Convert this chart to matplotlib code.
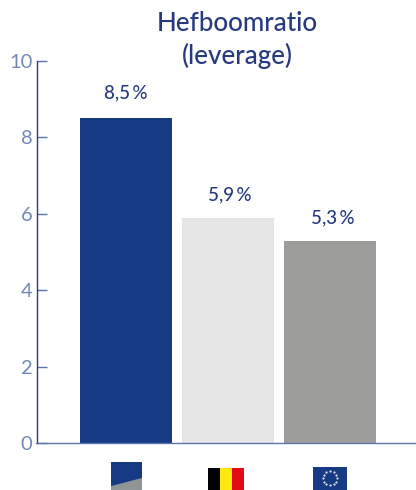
import numpy as np
import matplotlib
matplotlib.use("Agg")
import matplotlib.pyplot as plt
from matplotlib.patches import Polygon, Rectangle

W = 416
H = 490

categories = ["NBB", "België", "EU"]
values = [8.5, 5.9, 5.3]
value_labels = ["8,5\u2009%", "5,9\u2009%", "5,3\u2009%"]
bar_colors = ["#163a84", "#e6e6e6", "#9d9d9b"]
y_ticks = [0, 2, 4, 6, 8, 10]
label_dx = [-0.7, 1, 2]
label_dy = [12, 10, 10]

plt.rcParams["font.family"] = ["Lato", "DejaVu Sans"]
navy = "#27397f"
tick_blue = "#7488ba"


def px_axes(x0, y0, x1, y1):
    # pixel box (top-left origin) to figure axes
    a = fig.add_axes([x0 / W, 1 - y1 / H, (x1 - x0) / W, (y1 - y0) / H])
    a.set_xlim(0, 1)
    a.set_ylim(0, 1)
    a.axis("off")
    return a


fig = plt.figure(figsize=(W / 100, H / 100), dpi=100)
ax = fig.add_axes([36.5 / W, 1 - 443 / H, (W - 36.5) / W, (443 - 61) / H])

x = np.arange(len(categories))
ax.bar(x, values, width=92 / 102, color=bar_colors)
ax.set_xlim(-90 / 102, 290 / 102)
ax.set_ylim(0, 10)

for i in range(len(values)):
    ax.annotate(value_labels[i], (x[i], values[i]), xytext=(label_dx[i], label_dy[i]), textcoords="offset points",
                ha="center", va="bottom", fontsize=13.5, color=navy, fontweight="medium")

ax.set_xticks([])
ax.set_yticks(y_ticks)
ax.tick_params(axis="y", direction="in", length=7.5, width=1, color=tick_blue,
               labelcolor=tick_blue, labelsize=14.5, pad=3)
for t in ax.yaxis.get_major_ticks():
    t.tick1line.set_markeredgecolor("#5d75ad")
ax.spines["top"].set_visible(False)
ax.spines["right"].set_visible(False)
ax.spines["left"].set_color("#27397f")
ax.spines["bottom"].set_color("#5d75ad")
ax.spines["left"].set_linewidth(1)
ax.spines["bottom"].set_linewidth(1)

fig.text(237.5 / W, 1 - 40 / H, "Hefboomratio\n(leverage)", ha="center", va="center",
         fontsize=18.7, color=navy, linespacing=1.32, fontweight="medium")

# logo
a = px_axes(111, 462, 142, 490)
a.add_patch(Rectangle((0, 0), 1, 1, color="#8f9494", lw=0))
a.add_patch(Polygon([(0, 0.14), (1, 0.43), (1, 1), (0, 1)], color="#163a84", lw=0))

# Belgian flag
a = px_axes(208, 468, 244, 490)
a.add_patch(Rectangle((0, 0), 1 / 3, 1, color="#000000", lw=0))
a.add_patch(Rectangle((1 / 3, 0), 1 / 3, 1, color="#ffe90f", lw=0))
a.add_patch(Rectangle((2 / 3, 0), 1 / 3, 1, color="#e30b17", lw=0))

# EU flag
a = px_axes(313, 467, 347, 490)
a.add_patch(Rectangle((0, 0), 1, 1, color="#163a84", lw=0))
angles = np.deg2rad(np.arange(0, 360, 30))
a.scatter(0.5 + 0.21 * np.cos(angles), 0.51 + 0.31 * np.sin(angles), s=2.5, color="#dfe3ee", lw=0)

fig.savefig("out.png", dpi=100)
